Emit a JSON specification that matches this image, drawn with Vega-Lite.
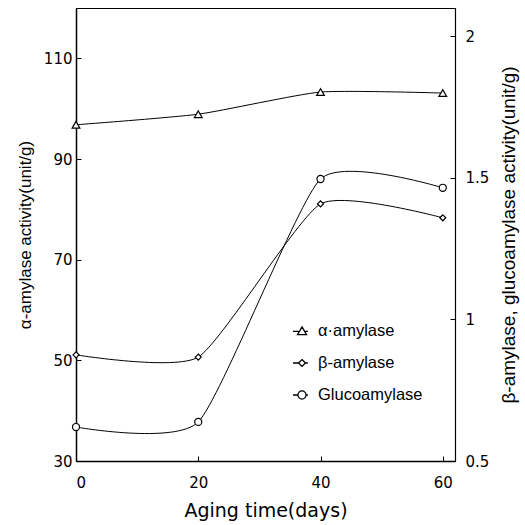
{
  "$schema": "https://vega.github.io/schema/vega-lite/v6.json",
  "autosize": {"type": "none"},
  "padding": {"left": 76, "top": 8, "right": 70, "bottom": 64},
  "width": 379,
  "height": 453,
  "background": "white",
  "config": {
    "view": {"stroke": "black", "strokeWidth": 1},
    "axis": {"grid": false, "domainColor": "black", "tickColor": "black", "labelColor": "black", "titleColor": "black"}
  },
  "data": {
    "values": [
      {"day": 0, "series": "α·amylase", "value": 96.8},
      {"day": 20, "series": "α·amylase", "value": 98.9},
      {"day": 40, "series": "α·amylase", "value": 103.3},
      {"day": 60, "series": "α·amylase", "value": 103.1},
      {"day": 0, "series": "β-amylase", "value": 0.875},
      {"day": 20, "series": "β-amylase", "value": 0.867},
      {"day": 40, "series": "β-amylase", "value": 1.408},
      {"day": 60, "series": "β-amylase", "value": 1.359},
      {"day": 0, "series": "Glucoamylase", "value": 0.62},
      {"day": 20, "series": "Glucoamylase", "value": 0.638},
      {"day": 40, "series": "Glucoamylase", "value": 1.496},
      {"day": 60, "series": "Glucoamylase", "value": 1.465}
    ]
  },
  "layer": [
    {
      "transform": [{"filter": "datum.series === 'α·amylase'"}],
      "encoding": {
        "x": {
          "field": "day", "type": "quantitative",
          "scale": {"domain": [0, 62], "nice": false},
          "axis": {
            "values": [0, 20, 40, 60], "tickSize": -5, "labelPadding": 19,
            "labelFont": "DejaVu Sans", "labelFontSize": 15, "domainWidth": 1.3,
            "title": "Aging time(days)", "titleFont": "DejaVu Sans", "titleFontSize": 19,
            "titleFontWeight": "normal", "titlePadding": 11
          }
        },
        "y": {
          "field": "value", "type": "quantitative",
          "scale": {"domain": [30, 120], "nice": false, "zero": false},
          "axis": {
            "orient": "left", "values": [30, 50, 70, 90, 110], "tickSize": -5, "labelPadding": 9,
            "labelFont": "DejaVu Sans", "labelFontSize": 15, "domainWidth": 1.5,
            "title": "α-amylase activity(unit/g)", "titleFont": "Liberation Sans", "titleFontSize": 17,
            "titleFontWeight": "normal", "titlePadding": 9
          }
        }
      },
      "layer": [
        {"mark": {"type": "line", "interpolate": "cardinal", "tension": 0.45, "color": "black", "strokeWidth": 1}},
        {"mark": {"type": "point", "shape": "triangle-up", "size": 60, "filled": true, "fill": "white", "stroke": "black", "strokeWidth": 1.2, "opacity": 1}}
      ]
    },
    {
      "transform": [{"filter": "datum.series !== 'α·amylase'"}],
      "encoding": {
        "x": {"field": "day", "type": "quantitative", "scale": {"domain": [0, 62], "nice": false}},
        "y": {
          "field": "value", "type": "quantitative",
          "scale": {"domain": [0.5, 2.1], "nice": false, "zero": false},
          "axis": {
            "orient": "right", "values": [0.5, 1, 1.5, 2], "format": "~g", "tickSize": -5, "labelPadding": 15,
            "labelFont": "DejaVu Sans", "labelFontSize": 15, "domainWidth": 1.2,
            "title": "β-amylase, glucoamylase activity(unit/g)", "titleFont": "Liberation Sans", "titleFontSize": 19,
            "titleFontWeight": "normal", "titleAngle": 270, "titlePadding": 30
          }
        },
        "detail": {"field": "series"}
      },
      "layer": [
        {"mark": {"type": "line", "interpolate": "cardinal", "tension": 0.45, "color": "black", "strokeWidth": 1}},
        {
          "mark": {"type": "point", "filled": true, "fill": "white", "stroke": "black", "strokeWidth": 1.2, "opacity": 1},
          "encoding": {
            "shape": {"field": "series", "type": "nominal", "scale": {"domain": ["β-amylase", "Glucoamylase"], "range": ["diamond", "circle"]}, "legend": null},
            "size": {"field": "series", "type": "nominal", "scale": {"domain": ["β-amylase", "Glucoamylase"], "range": [36, 50]}, "legend": null}
          }
        }
      ]
    },
    {
      "mark": {"type": "point", "filled": false, "color": "black", "stroke": "black", "strokeWidth": 1.3, "opacity": 1, "clip": true},
      "encoding": {
        "x": {"field": "day", "type": "quantitative", "scale": {"domain": [0, 62], "nice": false}},
        "y": {"field": "value", "type": "quantitative", "scale": {"domain": [1000, 2000], "nice": false, "zero": false}, "axis": null},
        "shape": {
          "field": "series", "type": "nominal",
          "scale": {
            "domain": ["α·amylase", "β-amylase", "Glucoamylase"],
            "range": [
              "M -1 0.05 L -0.28 0.05 M 0.28 0.05 L 0.65 0.05 M 0 -0.45 L 0.5 0.4 L -0.5 0.4 Z",
              "M -1 0 L -0.38 0 M 0.38 0 L 0.65 0 M 0 -0.38 L 0.38 0 L 0 0.38 L -0.38 0 Z",
              "M -1 0 L -0.45 0 M 0.45 0 L 0.65 0 M 0.45 0 A 0.45 0.45 0 1 1 -0.45 0 A 0.45 0.45 0 1 1 0.45 0 Z"
            ]
          },
          "legend": {
            "title": null, "orient": "none", "legendX": 216, "legendY": 313,
            "symbolSize": 324, "symbolStrokeWidth": 1.3, "symbolStrokeColor": "black", "symbolOpacity": 1,
            "labelFont": "Liberation Sans", "labelFontSize": 16.5, "labelColor": "black",
            "rowPadding": 13, "labelOffset": 6
          }
        }
      }
    }
  ],
  "resolve": {"scale": {"y": "independent", "shape": "independent", "size": "independent"}}
}
